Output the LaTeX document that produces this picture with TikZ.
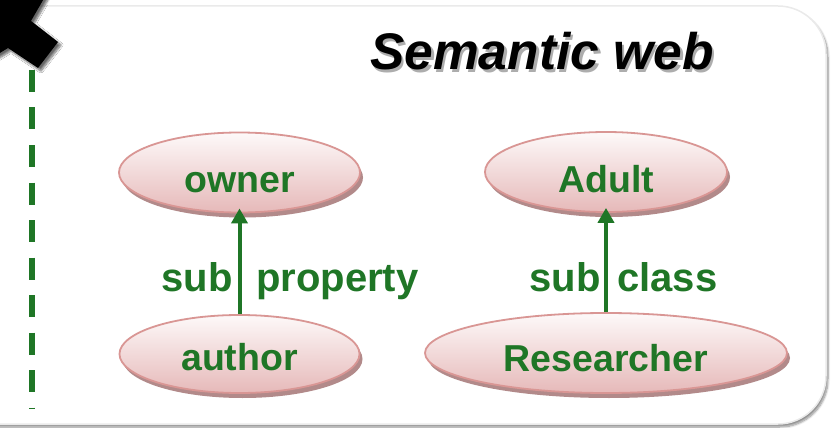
\documentclass[tikz,border=0pt]{standalone}
\usepackage{fontspec}
\setmainfont{Liberation Sans}
\usetikzlibrary{arrows.meta,shapes.geometric,shadows,shadows.blur}

\definecolor{leafgreen}{RGB}{31,118,38}
\definecolor{rimrose}{RGB}{217,150,148}
\definecolor{fillhi}{RGB}{253,249,249}
\definecolor{filllo}{RGB}{230,185,185}
\definecolor{shadrose}{RGB}{178,138,138}
\definecolor{panelrim}{RGB}{234,234,234}

% text with a soft grey copy set slightly below and to the right
\newcommand{\shadedtext}[1]{%
  \makebox[0pt][l]{\hspace{2.5pt}\raisebox{-2.5pt}{\color{black!32}#1}}#1}

\begin{document}
\begin{tikzpicture}[x=1pt,y=-1pt,
  bubble/.style={ellipse, draw=rimrose, line width=1.8pt,
    top color=fillhi, bottom color=filllo, inner sep=0pt,
    general shadow={fill=shadrose, shadow xshift=3pt, shadow yshift=-5pt}},
  term/.style={text=leafgreen, inner sep=0pt, anchor=base,
    font=\fontsize{37.5}{44}\selectfont\bfseries},
  rel/.style={text=leafgreen, inner sep=0pt,
    font=\fontsize{40}{48}\selectfont\bfseries},
  link/.style={draw=leafgreen, line width=4pt,
    -{Triangle[width=16pt,length=15pt]}, shorten >=-5pt},
  heading/.style={inner sep=0pt, anchor=base west,
    font=\fontsize{51.5}{60}\selectfont\bfseries\itshape}]

\useasboundingbox (0,0) rectangle (831,428);
\clip (0,0) rectangle (831,428);

% slide panel
\draw[panelrim, line width=1.5pt, fill=white, rounded corners=48pt,
  blur shadow={shadow xshift=2pt, shadow yshift=-3pt, shadow opacity=45, shadow blur steps=8}]
  (-80,6) rectangle (826,424);

% corner mark
\fill[black, blur shadow={shadow xshift=3pt, shadow yshift=-3pt, shadow opacity=60, shadow blur steps=8}]
  (-5,-5) -- (46,-5) -- (31,21) -- (58,42) -- (38,68) -- (8,48) -- (-5,56) -- cycle;

% dashed margin rule
\coordinate (ruletop) at (32,70);
\coordinate (rulebot) at (32,409);
\draw[leafgreen, line width=5.5pt, dash pattern=on 22pt off 15.5pt] (ruletop) -- (rulebot);

% title
\node[heading] (title) at (370,70) {\shadedtext{Semantic web}};

% ellipses
\node[bubble, minimum width=241pt, minimum height=80pt] (owner) at (239.5,172.5) {};
\node[bubble, minimum width=242pt, minimum height=80pt] (adult) at (606,172) {};
\node[bubble, minimum width=240pt, minimum height=78pt] (author) at (239.5,354) {};
\node[bubble, minimum width=362pt, minimum height=80pt] (researcher) at (606,353) {};

\node[term] (ownerlbl) at (239.5,192) {owner};
\node[term] (adultlbl) at (606,192) {Adult};
\node[term] (authorlbl) at (239.5,370) {author};
\node[term] (researcherlbl) at (606,371) {Researcher};

% relations
\draw[link] (author) -- (owner);
\draw[link] (researcher) -- (adult);

\node[rel, anchor=base east] (subA) at (233,291) {sub};
\node[rel, anchor=base west] (propA) at (256,291) {property};
\node[rel, anchor=base east] (subB) at (601,291) {sub};
\node[rel, anchor=base west] (classB) at (617,291) {class};
\end{tikzpicture}
\end{document}
